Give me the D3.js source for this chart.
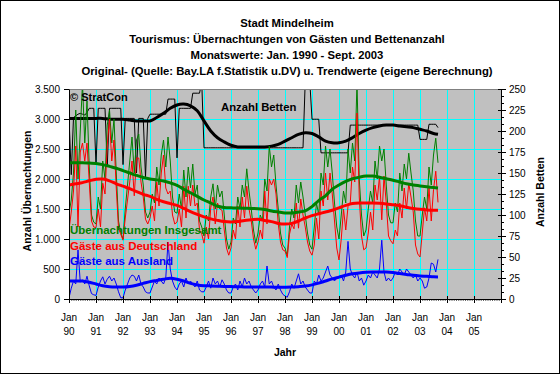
<!DOCTYPE html>
<html>
<head>
<meta charset="utf-8">
<title>Stadt Mindelheim</title>
<script src="https://cdn.jsdelivr.net/npm/d3@7"></script>
<style>
  body { margin: 0; background: #fff; }
  svg { display: block; }
  text { font-family: Arial, "Liberation Sans", sans-serif; }
  .grid line { shape-rendering: crispEdges; }
</style>
</head>
<body>
<script>
var w = 560;
var h = 374;
var plot = {left: 69, right: 501, top: 89, bottom: 299};

// texts
var titleLines = [
  "Stadt Mindelheim",
  "Tourismus: \u00dcbernachtungen von G\u00e4sten und Bettenanzahl",
  "Monatswerte: Jan. 1990 - Sept. 2003",
  "Original- (Quelle: Bay.LA f.Statistik u.DV) u. Trendwerte (eigene Berechnung)"
];
var yearLabels = ["90", "91", "92", "93", "94", "95", "96", "97", "98", "99", "00", "01", "02", "03", "04", "05"];
var leftTicks = [0, 500, 1000, 1500, 2000, 2500, 3000, 3500];
var rightTicks = [0, 25, 50, 75, 100, 125, 150, 175, 200, 225, 250];

// monthly values Jan 1990 - Sept 2003 (one row per year)
var total = [
  1430, 1650, 2100, 3150, 2000, 2800, 3600, 2600, 3300, 2200, 1400, 1280,
  1250, 1700, 1500, 2300, 2000, 2900, 3150, 2600, 3000, 2100, 1300, 1100,
  1000, 1500, 1900, 2300, 2700, 2100, 2650, 2750, 2200, 1900, 1450, 1350,
  1450, 1750, 1600, 2200, 1900, 2400, 2650, 2200, 2700, 2300, 1700, 1450,
  1430, 1750, 1500, 2150, 1700, 2200, 1850, 2250, 1750, 1900, 1300, 1200,
  1050, 1400, 1300, 1700, 1920, 1500, 1900, 1700, 1800, 1400, 1000, 830,
  950, 1350, 1250, 1700, 1500, 1900, 1700, 2170, 1800, 1500, 1150, 930,
  1100, 1400, 1300, 2000, 1800, 2550, 2200, 2400, 1900, 1500, 1100, 900,
  850, 720, 1200, 1500, 1350, 1900, 1600, 1950, 1700, 1400, 1100, 900,
  830, 1200, 1600, 1400, 2100, 1900, 2550, 2200, 2500, 2100, 1600, 1200,
  1000, 1400, 1800, 1600, 2500, 2100, 2600, 2300, 3600, 2000, 1400, 1050,
  1150, 1500, 1800, 1600, 2300, 2000, 2550, 2300, 2500, 1900, 1400, 1270,
  1270, 1600, 1450, 2100, 1800, 2250, 2000, 2430, 2100, 1800, 1300, 1050,
  1050, 1400, 1700, 1500, 2200, 1900, 2400, 2680, 2270
];
var germany = [
  1150, 1450, 1800, 2550, 1200, 2450, 2600, 2300, 2600, 1950, 1300, 1200,
  1190, 1500, 1200, 1930, 1750, 2570, 3000, 2300, 2650, 1850, 1180, 1080,
  980, 1350, 1650, 1950, 2300, 1720, 2350, 2350, 1950, 1700, 1330, 1250,
  1350, 1550, 1300, 1950, 1550, 2100, 2400, 1850, 1750, 1800, 1400, 1250,
  1280, 1500, 1200, 1880, 1350, 1880, 1550, 1900, 1550, 1600, 1150, 1080,
  930, 1200, 1000, 1520, 1700, 1250, 1600, 1500, 1480, 1150, 850, 730,
  850, 1150, 1000, 1550, 1200, 1700, 1350, 1880, 1500, 1300, 1000, 830,
  950, 1150, 1000, 1800, 1250, 2000, 1900, 2000, 1750, 1250, 950, 820,
  800, 690, 1080, 1250, 1170, 1600, 1180, 1667, 1400, 1200, 950, 800,
  730, 900, 1350, 1000, 1800, 1550, 2100, 1650, 2100, 1750, 1300, 850,
  650, 1000, 1500, 1150, 1540, 1600, 2200, 1950, 3100, 1700, 1050, 820,
  850, 1100, 1450, 1150, 1900, 1650, 2050, 1320, 2050, 1600, 1050, 970,
  920, 1150, 1050, 1600, 1350, 1850, 1500, 1930, 1700, 1450, 900, 750,
  700, 1100, 1520, 1300, 1850, 1300, 1820, 2130, 1610
];
var abroad = [
  20, 180, 300, 250, 820, 280, 320, 250, 380, 220, 90, 70,
  60, 200, 300, 370, 250, 330, 380, 300, 350, 250, 120, 20,
  20, 150, 250, 350, 400, 380, 300, 400, 250, 200, 120, 100,
  100, 200, 300, 250, 350, 300, 250, 350, 950, 500, 300, 200,
  150, 250, 300, 200, 350, 250, 300, 250, 200, 300, 150, 120,
  120, 200, 300, 180, 350, 250, 300, 200, 320, 250, 150, 100,
  100, 200, 250, 150, 300, 200, 350, 250, 300, 200, 150, 100,
  150, 250, 300, 200, 550, 250, 300, 200, 150, 250, 150, 80,
  50, 30, 120, 250, 180, 300, 420, 250, 300, 200, 150, 100,
  100, 300, 250, 400, 300, 350, 450, 550, 400, 350, 300, 350,
  350, 400, 300, 450, 960, 500, 400, 350, 450, 300, 350, 230,
  300, 400, 350, 450, 400, 350, 500, 980, 450, 300, 350, 300,
  350, 450, 400, 500, 450, 400, 500, 450, 400, 350, 400, 300,
  350, 300, 180, 200, 350, 600, 580, 450, 660
];
var beds = [
  216, 148, 216, 218, 220, 221, 220, 219, 222, 227, 227, 227,
  160, 227, 227, 227, 227, 158, 227, 227, 227, 227, 227, 227,
  160, 215, 215, 215, 215, 215, 150, 215, 215, 215, 145, 215,
  220, 220, 220, 220, 220, 220, 220, 220, 238, 238, 238, 238,
  168, 227, 227, 227, 227, 227, 227, 245, 245, 245, 245, 258,
  180, 180, 180, 180, 180, 180, 180, 180, 180, 180, 180, 180,
  180, 180, 180, 180, 180, 180, 180, 180, 180, 180, 180, 180,
  180, 180, 180, 180, 180, 180, 180, 180, 180, 180, 180, 180,
  180, 180, 180, 180, 180, 180, 180, 180, 180, 260, 260, 260,
  214, 214, 214, 214, 174, 174, 174, 174, 174, 174, 174, 174,
  174, 174, 174, 174, 174, 207, 207, 207, 207, 207, 207, 207,
  207, 207, 207, 207, 207, 207, 207, 207, 207, 207, 207, 207,
  207, 207, 207, 207, 207, 207, 207, 207, 207, 207, 207, 207,
  190, 190, 190, 190, 208, 208, 208, 208, 204
];

// trend values, one every 3 months (last one Sept 2003)
var trendMonths = d3.range(0, 163, 3).concat([164]);
var totalTrend = [
  2270, 2270, 2270, 2265, 2260, 2240, 2210, 2180, 2140, 2100,
  2060, 2025, 2000, 1985, 1967, 1935, 1895, 1830, 1770, 1710,
  1650, 1600, 1545, 1525, 1520, 1515, 1512, 1510, 1505, 1490,
  1467, 1450, 1435, 1435, 1450, 1470, 1540, 1640, 1720, 1830,
  1900, 1960, 2005, 2030, 2048, 2048, 2030, 2005, 1980, 1950,
  1920, 1900, 1885, 1870, 1857, 1850
];
var germanyTrend = [
  1900, 1920, 1940, 1970, 1995, 2000, 1970, 1920, 1880, 1840,
  1790, 1745, 1710, 1660, 1620, 1590, 1560, 1510, 1455, 1410,
  1370, 1335, 1310, 1290, 1283, 1290, 1310, 1320, 1330, 1310,
  1290, 1260, 1250, 1260, 1300, 1350, 1390, 1420, 1450, 1480,
  1520, 1560, 1590, 1600, 1600, 1600, 1595, 1585, 1570, 1555,
  1530, 1510, 1495, 1485, 1480, 1480
];
var abroadTrend = [
  300, 300, 300, 280, 250, 220, 205, 200, 200, 210,
  230, 260, 290, 310, 330, 345, 330, 300, 260, 235,
  222, 218, 214, 210, 207, 205, 202, 200, 200, 200,
  198, 196, 196, 198, 205, 215, 235, 265, 300, 335,
  365, 395, 420, 435, 445, 450, 450, 448, 440, 425,
  410, 395, 385, 378, 370, 367
];
var bedsTrend = [
  215, 215, 215, 215, 215, 215, 214, 214, 214, 213,
  212, 212, 212, 216, 221, 227, 231, 232, 230, 224,
  212, 200, 192, 187, 183, 181, 181, 181, 181, 181,
  182, 184, 188, 192, 196, 198, 197, 193, 188, 186,
  186, 188, 192, 197, 201, 204, 206, 207, 207, 206,
  205, 204, 202, 200, 197, 196
];

var deFormat = d3.formatLocale({decimal: ",", thousands: ".", grouping: [3], currency: ["", " \u20ac"]}).format(",d");

var svg = d3.select("body").append("svg")
            .attr("width", w)
            .attr("height", h);

// white chart area with frame
svg.append("rect")
   .attr("x", 0.5).attr("y", 0.5)
   .attr("width", w - 1).attr("height", h - 1)
   .attr("fill", "#fff").attr("stroke", "#000");

// scales
var x = d3.scaleLinear().domain([0, 192]).range([plot.left, plot.right]);
var yLeft = d3.scaleLinear().domain([0, 3500]).range([plot.bottom, plot.top]);
var yRight = d3.scaleLinear().domain([0, 250]).range([plot.bottom, plot.top]);

// plot background
svg.append("rect")
   .attr("x", plot.left + 0.5).attr("y", plot.top + 0.5)
   .attr("width", plot.right - plot.left).attr("height", plot.bottom - plot.top)
   .attr("fill", "#c0c0c0").attr("stroke", "#808080");

// gridlines
var grid = svg.append("g").attr("class", "grid");

grid.selectAll(".hgrid")
   .data(leftTicks.slice(1, -1))
   .enter().append("line")
   .attr("class", "hgrid")
   .attr("x1", plot.left + 1).attr("x2", plot.right)
   .attr("y1", function(d) { return Math.round(yLeft(d)) + 0.5; })
   .attr("y2", function(d) { return Math.round(yLeft(d)) + 0.5; })
   .attr("stroke", "#00ffff")
   .attr("stroke-width", 1);

grid.selectAll(".vgrid")
   .data(yearLabels.slice(1))
   .enter().append("line")
   .attr("class", "vgrid")
   .attr("x1", function(d, i) { return Math.round(x((i + 1) * 12)) + 0.5; })
   .attr("x2", function(d, i) { return Math.round(x((i + 1) * 12)) + 0.5; })
   .attr("y1", plot.top + 1).attr("y2", plot.bottom)
   .attr("stroke", "#00ffff")
   .attr("stroke-width", 1);

// clip for the series
svg.append("clipPath").attr("id", "clip")
   .append("rect")
   .attr("x", plot.left).attr("y", plot.top + 1)
   .attr("width", plot.right - plot.left).attr("height", plot.bottom - plot.top - 1);

var series = svg.append("g").attr("clip-path", "url(#clip)");

function drawLine(values, months, y, color, width) {
  var line = d3.line()
               .x(function(d, i) { return x(months[i]); })
               .y(function(d) { return y(d); });
  if (width > 1) line.curve(d3.curveCatmullRom);
  series.append("path")
        .datum(values)
        .attr("d", line)
        .attr("fill", "none")
        .attr("stroke", color)
        .attr("stroke-width", width)
        .attr("stroke-linejoin", "round");
}

var months = d3.range(total.length);

drawLine(beds, months, yRight, "#000", 1);
drawLine(bedsTrend, trendMonths, yRight, "#000", 3);
drawLine(total, months, yLeft, "#008000", 1);
drawLine(germany, months, yLeft, "#ff0000", 1);
drawLine(abroad, months, yLeft, "#0000ff", 1);
drawLine(totalTrend, trendMonths, yLeft, "#008000", 3);
drawLine(germanyTrend, trendMonths, yLeft, "#ff0000", 3);
drawLine(abroadTrend, trendMonths, yLeft, "#0000ff", 3);

// left axis
svg.append("g")
   .attr("transform", "translate(" + plot.left + ",0)")
   .call(d3.axisLeft(yLeft).tickValues(leftTicks).tickFormat(deFormat)
           .tickSize(5).tickPadding(4).tickSizeOuter(0));

// right axis with minor ticks
svg.append("g")
   .attr("transform", "translate(" + plot.right + ",0)")
   .call(d3.axisRight(yRight).tickValues(d3.range(0, 251, 25 / 3)).tickFormat("")
           .tickSize(3).tickSizeOuter(0));
var rightAxis = svg.append("g")
   .attr("transform", "translate(" + plot.right + ",0)")
   .call(d3.axisRight(yRight).tickValues(rightTicks)
           .tickSize(5).tickPadding(3).tickSizeOuter(0));
rightAxis.selectAll(".tick line").attr("x1", -3);

// bottom axis: monthly minor ticks, yearly major ticks
var minorAxis = svg.append("g")
   .attr("transform", "translate(0," + plot.bottom + ")")
   .call(d3.axisBottom(x).tickValues(d3.range(0, 193)).tickFormat("")
           .tickSize(2).tickSizeOuter(0));
minorAxis.selectAll(".tick line").attr("stroke-width", 0.6);
var bottomAxis = svg.append("g")
   .attr("transform", "translate(0," + plot.bottom + ")")
   .call(d3.axisBottom(x).tickValues(d3.range(0, 193, 12)).tickFormat("")
           .tickSize(4).tickSizeOuter(0));
bottomAxis.selectAll(".tick line").attr("y1", -3);

svg.selectAll(".domain").attr("stroke", "#000");
svg.selectAll(".tick text").attr("font-size", "10px").attr("fill", "#000")
   .style("font-family", "Arial, 'Liberation Sans', sans-serif");

// year labels, two lines
var yearText = svg.append("g").selectAll("text")
   .data(yearLabels)
   .enter().append("text")
   .attr("text-anchor", "middle")
   .attr("font-size", "10px");
yearText.append("tspan")
   .attr("x", function(d, i) { return x(i * 12); })
   .attr("y", 320.5)
   .text("Jan");
yearText.append("tspan")
   .attr("x", function(d, i) { return x(i * 12); })
   .attr("y", 335)
   .text(function(d) { return d; });

// axis titles
svg.append("text")
   .attr("x", x(96)).attr("y", 356)
   .attr("text-anchor", "middle")
   .attr("font-size", "10.5px").attr("font-weight", "bold")
   .text("Jahr");

svg.append("text")
   .attr("transform", "translate(31,191) rotate(-90)")
   .attr("text-anchor", "middle")
   .attr("font-size", "10.5px").attr("font-weight", "bold")
   .text("Anzahl \u00dcbernachtungen");

svg.append("text")
   .attr("transform", "translate(544,192) rotate(-90)")
   .attr("text-anchor", "middle")
   .attr("font-size", "10.5px").attr("font-weight", "bold")
   .text("Anzahl Betten");

// title
svg.append("g").selectAll("text")
   .data(titleLines)
   .enter().append("text")
   .attr("x", 287)
   .attr("y", function(d, i) { return 27 + i * 16; })
   .attr("text-anchor", "middle")
   .attr("font-size", "11.3px").attr("font-weight", "bold")
   .text(function(d) { return d; });

// labels inside the plot
var labels = [
  {text: "\u00a9 StratCon", x: 70, y: 101, color: "#000", size: "11px"},
  {text: "Anzahl Betten", x: 221, y: 111, color: "#000", size: "11.3px"},
  {text: "\u00dcbernachtungen Insgesamt", x: 70, y: 234, color: "#008000", size: "11.5px"},
  {text: "G\u00e4ste aus Deutschland", x: 70, y: 249.5, color: "#ff0000", size: "11.5px"},
  {text: "G\u00e4ste aus Ausland", x: 70, y: 264.5, color: "#0000ff", size: "11.5px"}
];
svg.append("g").selectAll("text")
   .data(labels)
   .enter().append("text")
   .attr("x", function(d) { return d.x; })
   .attr("y", function(d) { return d.y; })
   .attr("fill", function(d) { return d.color; })
   .attr("font-size", function(d) { return d.size; })
   .attr("font-weight", "bold")
   .text(function(d) { return d.text; });
</script>
</body>
</html>
